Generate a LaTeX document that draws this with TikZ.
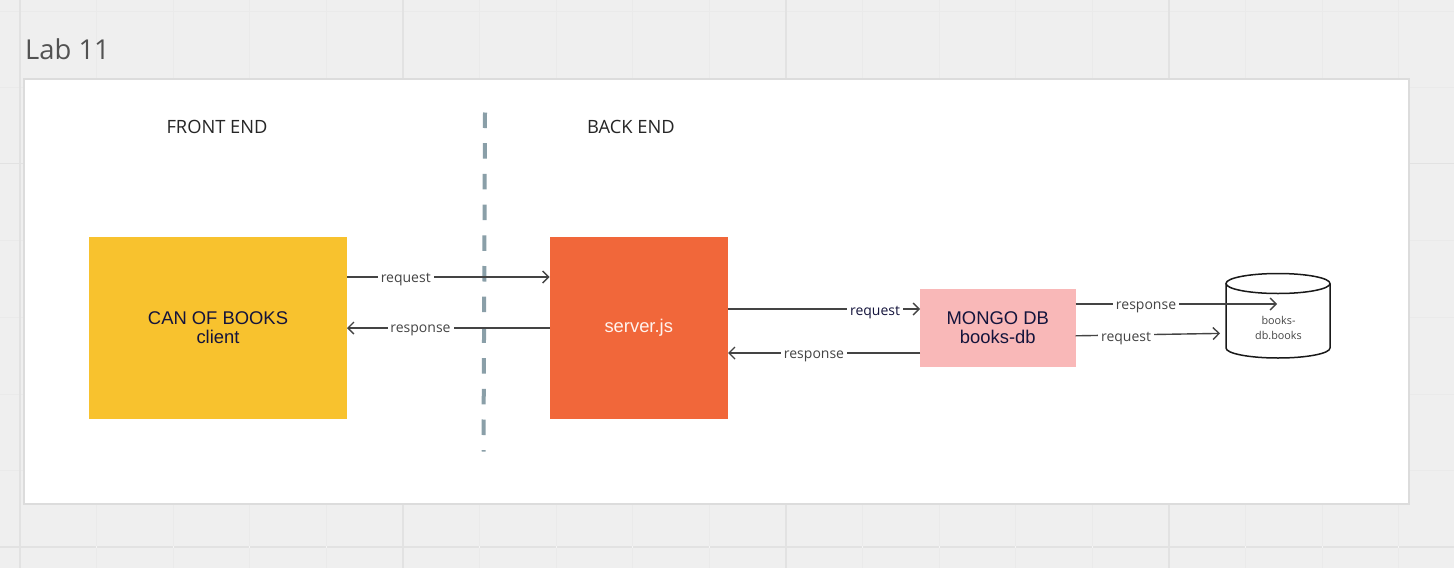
\documentclass[tikz,border=0pt]{standalone}
\usepackage{fontspec}
\setmainfont{Open Sans}
\newfontfamily\boxfont{Liberation Sans}
\usetikzlibrary{arrows.meta}
\definecolor{bgc}{HTML}{EFEFEF}
\definecolor{gridmin}{HTML}{EAEAEA}
\definecolor{gridmaj}{HTML}{E2E2E2}
\definecolor{gridgap}{HTML}{F5F5F5}
\definecolor{framec}{HTML}{DCDCDC}
\definecolor{inkc}{HTML}{444444}
\definecolor{navyc}{HTML}{14143C}
\tikzset{
  x=1pt,y=-1pt,
  gridminor/.style={draw=gridmin,line width=1pt},
  gridmajor/.style={draw=gridmaj,line width=1.6pt},
  cardbox/.style={rectangle,inner sep=0pt,outer sep=0pt,align=center},
  boxtext/.style={font=\boxfont\fontsize{18.4}{20}\selectfont,text=navyc},
  heading/.style={font=\fontsize{18.3}{22}\selectfont,text=black!85},
  flow/.style={draw=inkc,line width=1.4pt,-{Straight Barb[length=6pt,width=12pt,line width=1.4pt]}},
  flowlabel/.style={fill=none,inner xsep=3pt,inner ysep=0pt,yshift=-2.5pt,font=\fontsize{14}{15}\selectfont,text=inkc},
  lowlabel/.style={flowlabel,yshift=-1pt},
  flowgap/.style={fill=white,inner sep=0pt,minimum height=4pt},
}
\begin{document}
\begin{tikzpicture}
\useasboundingbox (0,0) rectangle (1454,568);
\fill[bgc] (0,0) rectangle (1454,568);
% board grid
\foreach \gx in {96.6,173.2,249.8,326.4,479.6,556.2,632.8,709.4,862.6,939.2,1015.8,1092.4,1245.6,1322.2,1398.8}
  \draw[gridminor] (\gx,0) -- (\gx,568);
\foreach \gy in {11.6,87,240,317,394,470.5}
  \draw[gridminor] (0,\gy) -- (1454,\gy);
\foreach \gy in {163.5,547}
  \draw[gridmajor] (0,\gy) -- (1454,\gy);
\foreach \gx in {20,403,786,1169}
  \draw[gridmajor] (\gx,0) -- (\gx,568);
\foreach \gx in {96.6,173.2,249.8,326.4,479.6,556.2,632.8,709.4,862.6,939.2,1015.8,1092.4,1245.6,1322.2,1398.8}
  \draw[draw=gridgap,line width=1pt] (\gx,545.6) -- (\gx,548.4);
% frame
\node[cardbox,draw=framec,line width=2pt,fill=white,minimum width=1385pt,minimum height=425pt] (frame) at (716.5,291.5) {};
\node[anchor=base west,inner sep=0pt,font=\fontsize{27.4}{30}\selectfont,text=black!68] (title) at (25,59) {Lab 11};
\node[heading] (front) at (217,127) {FRONT END};
\node[heading] (back) at (631,127) {BACK END};
% divider
\coordinate (divtop) at (485,112.5);
\coordinate (divbot) at (483.5,451.5);
\draw[draw={rgb,255:red,138;green,159;blue,168},line width=4pt,dash pattern=on 15.5pt off 15.2pt] (divtop) -- (divbot);
% boxes
\node[cardbox,boxtext,fill={rgb,255:red,248;green,194;blue,46},minimum width=258pt,minimum height=181.5pt] (can) at (218,327.75) {\raisebox{-1.5pt}{CAN OF BOOKS}\\\raisebox{-1.3pt}{client}};
\node[cardbox,boxtext,text={rgb,255:red,255;green,243;blue,238},fill={rgb,255:red,241;green,103;blue,58},minimum width=178.5pt,minimum height=181.5pt] (srv) at (638.75,327.75) {\raisebox{-1.5pt}{server.js}};
\node[cardbox,boxtext,fill={rgb,255:red,249;green,184;blue,184},minimum width=155.5pt,minimum height=77.5pt] (mongo) at (997.75,327.75) {\raisebox{-1.5pt}{MONGO DB}\\\raisebox{-1.3pt}{books-db}};
% database cylinder
\draw[draw=black!90,line width=1.5pt,fill=white] (1226,283.5) -- (1226,348) arc[start angle=180,end angle=360,x radius=52pt,y radius=10pt] -- (1330,283.5);
\draw[draw=black!90,line width=1.5pt,fill=white] (1278,283.5) ellipse[x radius=52pt,y radius=10pt];
\node[font=\fontsize{10.8}{15}\selectfont,text=inkc,align=center,inner sep=0pt] (dbtext) at (1278.5,327.5) {books-\\db.books};
% connector levels
\coordinate (a) at (0,277);
\coordinate (b) at (0,328);
\coordinate (c) at (0,309);
\coordinate (d) at (0,353);
\coordinate (e) at (0,304);
\coordinate (f) at (1277,304);
\coordinate (g) at (0,335.8);
\coordinate (h) at (1220,333.4);
\draw[flow] (can.east |- a) -- node[flowgap,minimum width=56pt,pos=0.29] {} node[flowlabel,pos=0.29] {request} (srv.west |- a);
\draw[flow] (srv.west |- b) -- node[flowgap,minimum width=66pt,pos=0.637] {} node[flowlabel,pos=0.637] {response} (can.east |- b);
\draw[flow] (srv.east |- c) -- node[flowgap,minimum width=56pt,pos=0.766] {} node[flowlabel,yshift=-1pt,pos=0.766,text=navyc] {request} (mongo.west |- c);
\draw[flow] (mongo.west |- d) -- node[flowgap,minimum width=66pt,pos=0.552] {} node[lowlabel,pos=0.552] {response} (srv.east |- d);
\draw[flow] (mongo.east |- e) -- node[flowgap,minimum width=66pt,pos=0.35] {} node[lowlabel,pos=0.35] {response} (f);
\draw[flow] (mongo.east |- g) -- node[flowgap,minimum width=56pt,pos=0.35] {} node[lowlabel,pos=0.35] {request} (h);
\end{tikzpicture}
\end{document}
